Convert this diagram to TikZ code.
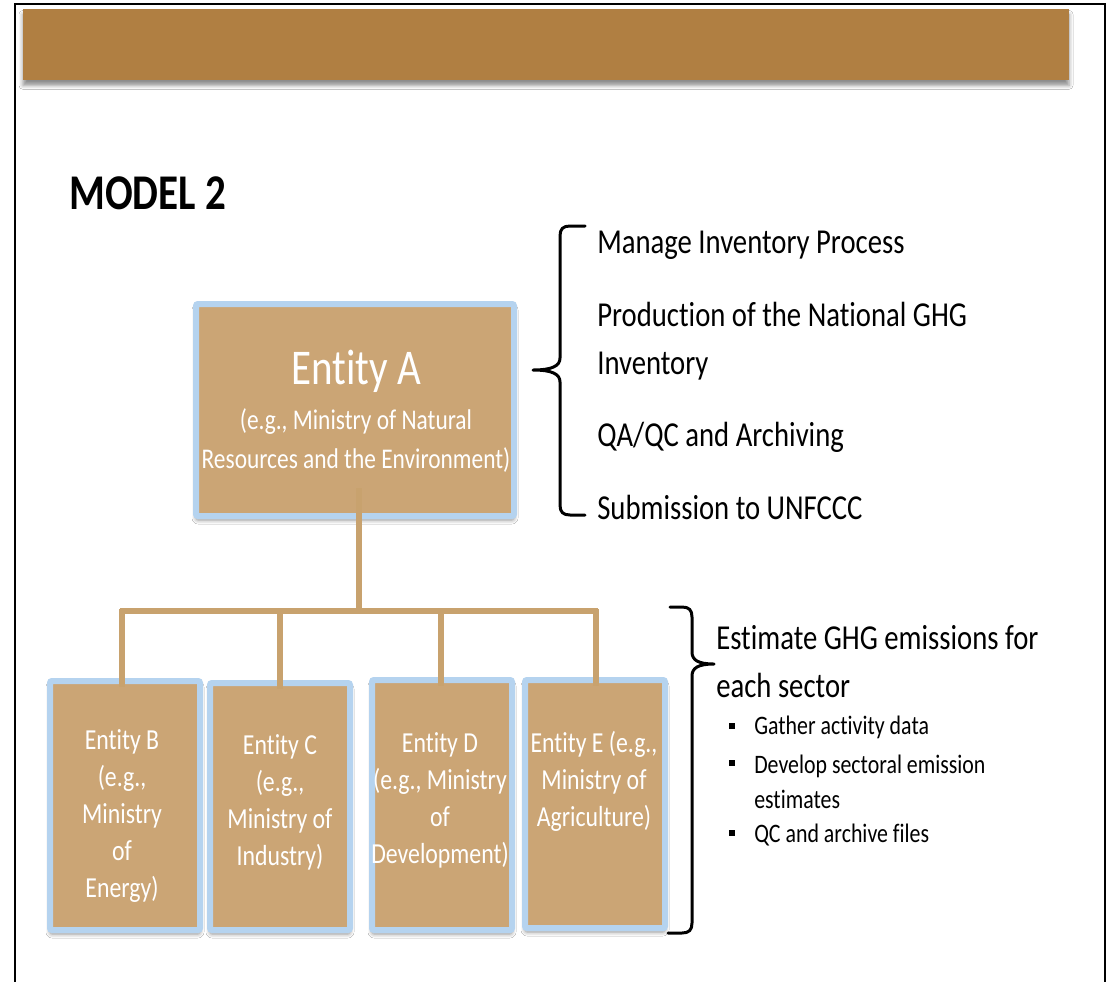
\documentclass[tikz,border=0pt]{standalone}
\usepackage{fontspec}
\setmainfont{Carlito}[FakeStretch=0.82,Ligatures=NoCommon]
\usetikzlibrary{shadows.blur}
\definecolor{banner}{HTML}{B07F42}
\definecolor{tan}{HTML}{CBA575}
\definecolor{lblue}{HTML}{B5D3EF}
\definecolor{conn}{HTML}{C8A26E}
\newcommand{\fsBig}{\fontsize{26.25pt}{36pt}\selectfont}
\newcommand{\fsModel}{\fontsize{37.5pt}{40pt}\selectfont\bfseries}
\newcommand{\fsTitle}{\fontsize{37.5pt}{40pt}\selectfont}
\newcommand{\fsSub}{\fontsize{21.4pt}{29.25pt}\selectfont}
\newcommand{\fsBox}{\fontsize{21.75pt}{27.75pt}\selectfont}
\newcommand{\fsBul}{\fontsize{20pt}{26.4pt}\selectfont}
\begin{document}
\begin{tikzpicture}[x=0.75pt,y=-0.75pt,
  frame/.style={draw=black},
  entbox/.style={rectangle, fill=tan, draw=lblue, line width=4.5pt, rounded corners=1.5pt,
     inner sep=0pt, outer sep=0pt,
     blur shadow={shadow xshift=0pt, shadow yshift=-3pt, shadow blur radius=3pt, shadow opacity=45}},
  wtext/.style={text=white, align=center, inner sep=0pt},
  btext/.style={text=black, align=left, anchor=west, inner sep=0pt},
  conline/.style={draw=conn, line width=4.5pt},
  brace/.style={draw=black, line width=2.25pt, line cap=round, line join=round},
  bul/.style={rectangle, fill=black, minimum size=4.5pt, inner sep=0pt}
]
\useasboundingbox (0,0) rectangle (1116,982);
\fill[white] (0,0) rectangle (1116,982);
% frame
\draw[frame, line width=1.2pt] (14,4) -- (1106,4);
\draw[frame, line width=1.9pt] (15,4) -- (15,982);
\draw[frame, line width=1.9pt] (1105,4) -- (1105,982);
% banner
\node[rectangle, fill=banner, inner sep=0pt, outer sep=0pt, minimum width=784.5pt, minimum height=53.25pt,
  blur shadow={shadow xshift=0pt, shadow yshift=-4pt, shadow blur radius=3pt, shadow opacity=45}]
  (banner) at (546,44.5) {};
% title
\node[btext, font=\fsModel] (model) at (69,193) {MODEL 2};
% Entity A
\node[entbox, minimum width=238.5pt, minimum height=159pt] (EA) at (355,410) {};
\node[wtext, font=\fsTitle] (EAt) at (356,371) {Entity A};
\node[wtext, font=\fsSub] (EAs) at (356,441) {(e.g., Ministry of Natural\\Resources and the Environment)};
% bottom boxes
\node[entbox, minimum width=112.5pt, minimum height=186.75pt] (B) at (125,805.5) {};
\node[entbox, minimum width=105pt, minimum height=185.25pt] (C) at (280,806.5) {};
\node[entbox, minimum width=105pt, minimum height=187.5pt] (D) at (442,805) {};
\node[entbox, minimum width=105pt, minimum height=186pt] (E) at (595,804) {};
\node[wtext, font=\fsBox] (Bt) at (122,816) {Entity B\\(e.g.,\\Ministry\\of\\Energy)};
\node[wtext, font=\fsBox] (Ct) at (280,802) {Entity C\\(e.g.,\\Ministry of\\Industry)};
\node[wtext, font=\fsBox] (Dt) at (440,800) {Entity D\\(e.g., Ministry\\of\\Development)};
\node[wtext, font=\fsBox] (Et) at (594,781) {Entity E (e.g.,\\Ministry of\\Agriculture)};
% connectors
\coordinate (j) at (359,611);
\coordinate (jtop) at (359,488);
\coordinate (bL) at (120,611);
\coordinate (bR) at (598,611);
\draw[conline] (jtop) -- (j);
\draw[conline] (bL) -- (bR);
\draw[conline] (122,609) -- (B.north -| 122,0) -- ++(0,6);
\draw[conline] (280,609) -- (C.north -| 280,0) -- ++(0,6);
\draw[conline] (441,609) -- (D.north -| 441,0) -- ++(0,6);
\draw[conline] (596,609) -- (E.north -| 596,0) -- ++(0,6);
% right texts
\node[btext, font=\fsBig] (t1) at (597,245) {Manage Inventory Process};
\node[btext, font=\fsBig] (t2) at (597,341) {Production of the National GHG\\Inventory};
\node[btext, font=\fsBig] (t3) at (597,437) {QA/QC and Archiving};
\node[btext, font=\fsBig] (t4) at (597,507) {Submission to UNFCCC};
% brace 1
\draw[brace] (585,226) -- (570,226) .. controls (563,226) and (560,229) .. (560,236) -- (560,358)
  .. controls (560,366) and (552,370) .. (533,370) .. controls (552,370) and (560,374) .. (560,382)
  -- (560,505) .. controls (560,512) and (563,515) .. (570,515) -- (585,515);
% brace 2
\draw[brace] (670,607) -- (682,607) .. controls (689,607) and (692,610) .. (692,617) -- (692,652)
  .. controls (692,660) and (698,664) .. (714,664) .. controls (698,664) and (692,668) .. (692,676)
  -- (692,923) .. controls (692,930) and (689,933) .. (682,933) -- (668,933);
% sector text
\node[btext, font=\fsBig] (s1) at (716,662) {Estimate GHG emissions for\\each sector};
\node[bul] (b1) at (732,726) {};
\node[bul] (b2) at (732,763) {};
\node[bul] (b3) at (732,833) {};
\node[btext, font=\fsBul] (g1) at (754,727) {Gather activity data};
\node[btext, font=\fsBul] (g2) at (754,782) {Develop sectoral emission\\estimates};
\node[btext, font=\fsBul] (g3) at (754,835) {QC and archive files};
\end{tikzpicture}
\end{document}
